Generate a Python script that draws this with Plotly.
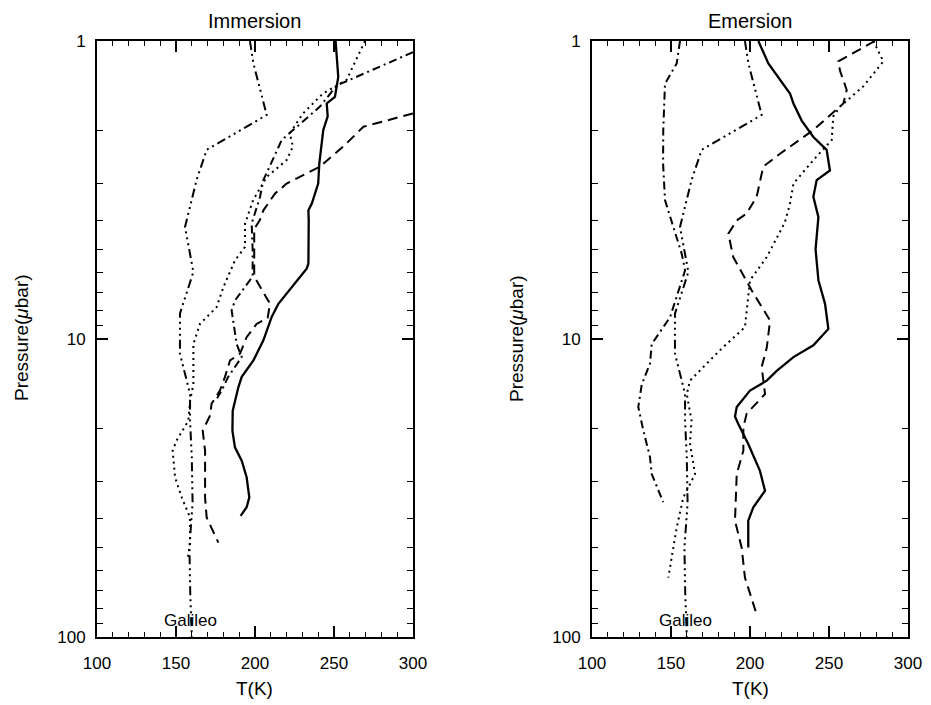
import math
import plotly.graph_objects as go

# ---------------- data (T in K, P in microbar) ----------------
imm_solid_T = [251, 252.7, 250.6, 245.4, 246, 243.2, 240.7, 240, 235.9, 233.8, 234, 233.8, 232.7, 223.2,
               214.8, 210.5, 205.3, 199, 191.6, 189.5, 186.3, 185.9, 185.7, 187.3, 191.6, 194.7, 196.4, 194.7, 190.9]
imm_solid_P = [1.0, 1.32, 1.54, 1.62, 1.79, 1.99, 2.58, 3.01, 3.52, 3.70, 4.0, 5.58, 5.81, 6.70,
               7.62, 8.45, 10.1, 11.8, 13.4, 14.5, 16.9, 17.4, 20.3, 23.1, 25.6, 29.1, 34.0, 36.7, 39.2]

imm_dashed_T = [300, 268.6, 255.9, 241.1, 220, 212.7, 205.3, 203, 199.5, 199.5, 209.5, 208, 201, 194.7,
                190.5, 184.2, 181, 177.8, 172.5, 171.5, 166.9, 168.4, 168.4, 169.4, 176.8]
imm_dashed_P = [1.75, 1.94, 2.26, 2.64, 3.01, 3.25, 3.70, 4.0, 4.27, 6.17, 7.62, 8.5, 8.9, 9.86,
                11.2, 11.8, 13.4, 14.9, 16.5, 18.1, 20.3, 23.7, 34.0, 39.7, 48.2]

imm_dotted_T = [269.6, 258, 243, 230.4, 222, 224, 220, 207.4, 198.8, 193.7, 193.7, 187.3, 180, 175.7, 165.2,
                161, 161, 158.9, 157.8, 150.4, 147.9, 149.4, 153.6, 158.9, 158.9, 157.5]
imm_dotted_P = [1.0, 1.35, 1.50, 1.75, 2.04, 2.26, 2.51, 2.86, 3.42, 4.10, 4.91, 5.45, 6.70, 7.82, 8.89,
                10.4, 14.2, 16.1, 18.8, 21.9, 23.7, 29.1, 34.0, 39.7, 48.8, 54.2]

imm_dashdot_T = [300, 274.9, 251.7, 241.1, 222, 216.9, 205.3, 203.2, 197.9, 198.5, 198.5, 187.3, 185.2,
                 188.4, 191.6, 187.3, 183, 178.9, 176]
imm_dashdot_P = [1.09, 1.25, 1.41, 1.66, 2.04, 2.15, 2.93, 3.33, 4.10, 5.0, 6.17, 7.43, 8.02,
                 10.4, 11.5, 12.4, 13.4, 14.9, 15.8]

gal_T = [196.8, 199, 207.4, 169.4, 163, 155.7, 161, 152.5, 152.5, 158.9, 158.9, 160, 160.5, 158.5, 159, 160]
gal_P = [1.0, 1.19, 1.77, 2.32, 2.93, 4.21, 5.96, 8.22, 11.2, 15.3, 18.8, 25.1, 35.5, 50, 70.8, 100]

em_solid_T = [205.3, 211.6, 225.3, 227.5, 232.7, 240.1, 248.5, 250.6, 242.2, 240.1, 243.3, 242.2, 241.5,
              243.3, 247.5, 249.6, 240.1, 227.5, 216.9, 210.6, 200, 191.6, 190.5, 192.6, 198.9, 206.3,
              209.5, 202.1, 198.9, 198.9]
em_solid_P = [1.0, 1.19, 1.50, 1.62, 1.85, 2.10, 2.32, 2.72, 2.93, 3.33, 3.90, 4.47, 5.0,
              6.35, 7.62, 9.25, 10.5, 11.5, 12.8, 13.8, 14.9, 16.9, 18.2, 19.3, 22.5, 27.7,
              32.3, 36.7, 40.7, 50.1]

em_dashed_T = [279, 255.9, 257, 261.2, 259.1, 240.1, 219, 208.4, 204.2, 197.9, 191.6, 186.3, 189.4, 201.1,
               212.7, 210.6, 207.4, 209.5, 197.9, 195.8, 195.8, 191.6, 190.5, 194.7, 196.8, 204.2]
em_dashed_P = [1.0, 1.17, 1.26, 1.46, 1.62, 1.99, 2.39, 2.64, 3.33, 3.79, 4.0, 4.43, 5.31, 6.87,
               8.67, 10.7, 12.4, 15.3, 17.8, 19.8, 23.7, 28.4, 40.7, 50.1, 63.2, 83.9]

em_dotted_T = [278, 284.4, 271.7, 257, 252.7, 251.7, 240.1, 227.5, 225.3, 222, 210.6, 200, 196.8, 181,
               162, 160, 163, 162, 165.2, 157.8, 153.6, 148.3]
em_dotted_P = [1.0, 1.17, 1.42, 1.66, 1.79, 2.15, 2.51, 3.01, 3.52, 4.07, 5.31, 6.35, 9.12, 10.9,
               13.8, 15.3, 18.8, 22.4, 28.4, 34.0, 43.0, 63.2]

em_dashdot_T = [155.7, 153.6, 146.2, 145.1, 145, 146.2, 151.5, 156.8, 158.9, 153.6, 149.4, 137.8, 136.7,
                131.5, 129.3, 132.5, 136.7, 137.8, 145.1]
em_dashdot_P = [1.0, 1.19, 1.39, 1.99, 2.58, 3.42, 4.21, 5.18, 5.89, 7.23, 8.45, 10.4, 12.1,
                14.2, 16.9, 20.3, 24.9, 28.4, 35.3]

x_ticks = [100, 150, 200, 250, 300]
y_ticks = [1, 10, 100]
y_minor = [2, 3, 4, 5, 6, 7, 8, 9, 20, 30, 40, 50, 60, 70, 80, 90]
panel_titles = ["Immersion", "Emersion"]

# ---------------- styling ----------------
OFF = 8  # page body margin
W, H = 931 - OFF, 705 - OFF
FONT = "Liberation Sans, Arial, sans-serif"
DASHES = {
    "solid": "solid",
    "dashed": "10px,6px",
    "dotted": "2px,4px",
    "dashdot": "8px,4px,2px,4px",
    "dash3dot": "9px,4px,2px,4px,2px,4px,2px,4px",
}

fig = go.Figure()

def add(T, P, style, ax):
    fig.add_trace(go.Scatter(
        x=T, y=P, mode="lines", xaxis="x" + ax, yaxis="y" + ax,
        line=dict(color="black", width=2.0 if style != "solid" else 2.3, dash=DASHES[style]),
        showlegend=False, hoverinfo="skip"))

# Immersion (left)
add(gal_T, gal_P, "dash3dot", "")
add(imm_dashdot_T, imm_dashdot_P, "dashdot", "")
add(imm_dotted_T, imm_dotted_P, "dotted", "")
add(imm_dashed_T, imm_dashed_P, "dashed", "")
add(imm_solid_T, imm_solid_P, "solid", "")
# Emersion (right)
add(gal_T, gal_P, "dash3dot", "2")
add(em_dashdot_T, em_dashdot_P, "dashdot", "2")
add(em_dotted_T, em_dotted_P, "dotted", "2")
add(em_dashed_T, em_dashed_P, "dashed", "2")
add(em_solid_T, em_solid_P, "solid", "2")

left_px = (97 - OFF, 413 - OFF)
right_px = (592 - OFF, 908 - OFF)
top_px, bot_px = 41 - OFF, 637 - OFF
ydom = [1 - bot_px / H, 1 - top_px / H]

def xaxis(dom):
    return dict(domain=[dom[0] / W, dom[1] / W], range=[100, 300], tickvals=x_ticks,
                ticktext=[str(v) for v in x_ticks], ticks="inside", ticklen=11, tickwidth=1.5,
                tickcolor="black", showline=True, linecolor="black", linewidth=2, mirror="ticks",
                showgrid=False, zeroline=False, automargin=False, ticklabelstandoff=10,
                tickfont=dict(family=FONT, size=17, color="black"),
                minor=dict(dtick=10, tick0=100, ticks="inside", ticklen=5, tickwidth=1.2,
                           tickcolor="black", showgrid=False))

def yaxis(anchor):
    return dict(domain=ydom, type="log", range=[2, 0], tickvals=y_ticks,
                ticktext=[str(v) for v in y_ticks], ticks="inside", ticklen=11, tickwidth=1.5,
                tickcolor="black", showline=True, linecolor="black", linewidth=2, mirror="ticks",
                showgrid=False, zeroline=False, automargin=False, anchor=anchor, ticklabelstandoff=6,
                tickfont=dict(family=FONT, size=17, color="black"),
                minor=dict(tickvals=y_minor, ticks="inside", ticklen=6, tickwidth=1.2,
                           tickcolor="black", showgrid=False))

fig.update_layout(
    width=W, height=H, margin=dict(l=0, r=0, t=0, b=0),
    paper_bgcolor="white", plot_bgcolor="white",
    xaxis=dict(xaxis(left_px), anchor="y"),
    yaxis=yaxis("x"),
    xaxis2=dict(xaxis(right_px), anchor="y2"),
    yaxis2=yaxis("x2"),
)

ann = []
for (l, r), title, xr, yr in [(left_px, panel_titles[0], "x", "y"), (right_px, panel_titles[1], "x2", "y2")]:
    cx = (l + r) / 2 / W
    ann.append(dict(text=title, x=cx, y=1.0, xref="paper", yref="paper", showarrow=False,
                    xanchor="center", yanchor="top", font=dict(family=FONT, size=20, color="black")))
    ann.append(dict(text="T(K)", x=cx, y=1 - (688 - OFF) / H, xref="paper", yref="paper", showarrow=False,
                    xanchor="center", yanchor="middle", font=dict(family=FONT, size=19, color="black")))
    ann.append(dict(text="Pressure(<i>μ</i>bar)", x=(l - 75) / W, y=1 - (338 - OFF) / H, xref="paper",
                    yref="paper", showarrow=False, textangle=-90, xanchor="center", yanchor="middle",
                    font=dict(family=FONT, size=19, color="black")))
    ann.append(dict(text="Galileo", x=159, y=math.log10(88), xref=xr, yref=yr, showarrow=False,
                    xanchor="center", yanchor="middle", font=dict(family=FONT, size=17, color="black")))
fig.update_layout(annotations=ann)

fig.write_html("out.html")
